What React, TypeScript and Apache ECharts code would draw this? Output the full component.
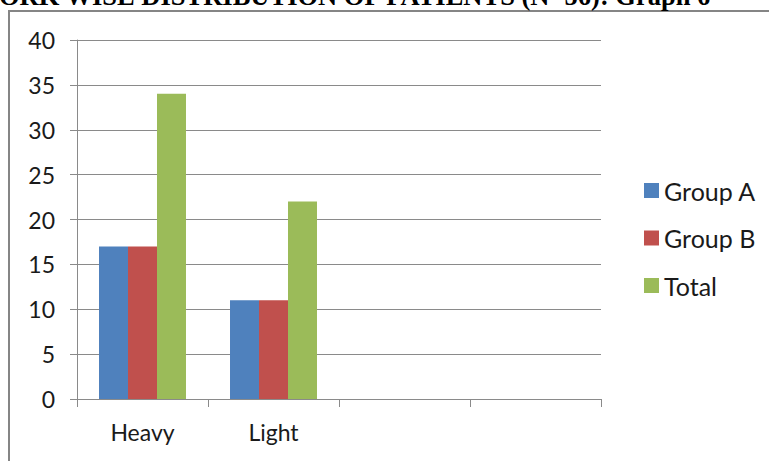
import React, { useEffect, useRef } from "react";
import * as echarts from "echarts";

const categories = ["Heavy", "Light", "", ""];
const groupA = [17, 11, null, null];
const groupB = [17, 11, null, null];
const total = [34, 22, null, null];
const seriesNames = ["Group A", "Group B", "Total"];
const colors = ["#4F81BD", "#C0504D", "#9BBB59"];
const titleText = "ORK WISE DISTRIBUTION OF PATIENTS (N=56): Graph 6";

export default function App() {
  const ref = useRef<HTMLDivElement>(null);
  useEffect(() => {
    if (!ref.current) return;
    const chart = echarts.init(ref.current, null, { renderer: "svg" });
    const font = "Lato";
    const axisGray = "#8a8a8a";
    chart.setOption({
      animation: false,
      backgroundColor: "#ffffff",
      graphic: [
        {
          type: "rect",
          shape: { x: 9, y: 11, width: 800, height: 500 },
          style: { fill: "none", stroke: "#858585", lineWidth: 2 },
        },
        {
          type: "text",
          x: -1,
          y: 9,
          style: {
            text: titleText,
            font: "bold 26.5px 'Liberation Serif'",
            fill: "#000",
            verticalAlign: "bottom",
          },
        },
      ],
      grid: { left: 77, right: 168, top: 40, bottom: 62, containLabel: false },
      legend: {
        orient: "vertical",
        left: 639,
        top: 173,
        itemWidth: 15,
        itemHeight: 15,
        itemGap: 22.5,
        icon: "rect",
        textStyle: { fontFamily: font, fontSize: 25, color: "#1a1a1a", lineHeight: 25 },
        data: seriesNames,
      },
      xAxis: {
        type: "category",
        data: categories,
        axisLine: { lineStyle: { color: axisGray, width: 1 } },
        axisTick: { show: true, length: 8, lineStyle: { color: axisGray } },
        axisLabel: { fontFamily: font, fontSize: 23, color: "#1a1a1a", margin: 21 },
      },
      yAxis: {
        type: "value",
        min: 0,
        max: 40,
        interval: 5,
        axisLine: { show: true, lineStyle: { color: axisGray, width: 1 } },
        axisTick: { show: true, length: 7, lineStyle: { color: axisGray } },
        axisLabel: { fontFamily: font, fontSize: 23, color: "#1a1a1a", margin: 22 },
        splitLine: { lineStyle: { color: axisGray, width: 1 } },
      },
      series: [groupA, groupB, total].map((d, i) => ({
        name: seriesNames[i],
        type: "bar",
        data: d,
        barGap: "0%",
        barCategoryGap: "33.6%",
        itemStyle: { color: colors[i] },
      })),
    });
    return () => chart.dispose();
  }, []);
  return (
    <div
      ref={ref}
      style={{ position: "fixed", left: 0, top: 0, width: 769, height: 461 }}
    />
  );
}
